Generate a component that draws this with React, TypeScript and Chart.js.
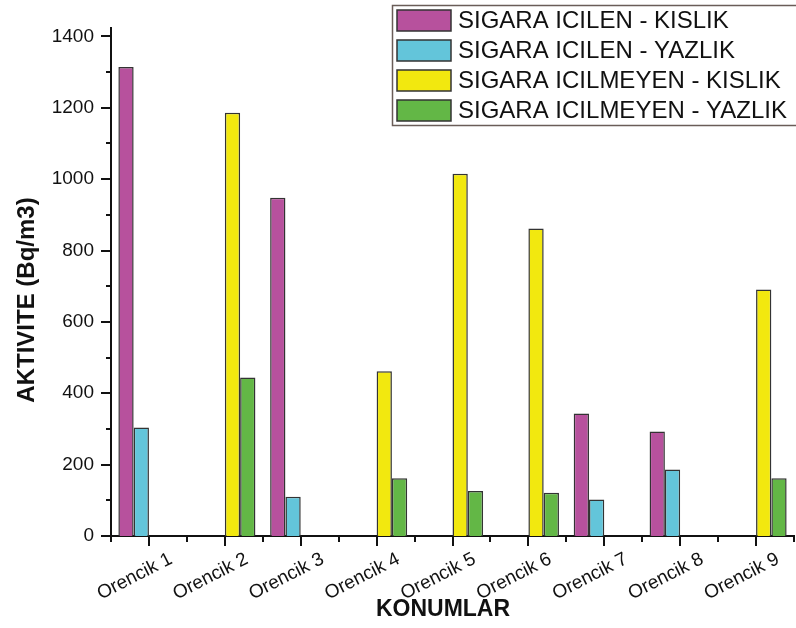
import React, { useEffect, useRef } from 'react';
import { Chart, registerables } from 'chart.js';

Chart.register(...registerables);

const categories = ['Orencik 1', 'Orencik 2', 'Orencik 3', 'Orencik 4', 'Orencik 5', 'Orencik 6', 'Orencik 7', 'Orencik 8', 'Orencik 9'];
const seriesLabels = ['SIGARA ICILEN - KISLIK', 'SIGARA ICILEN - YAZLIK', 'SIGARA ICILMEYEN - KISLIK', 'SIGARA ICILMEYEN - YAZLIK'];
const smokingWinter = [1314, null, 948, null, null, null, 343, 293, null];
const smokingSummer = [304, null, 110, null, null, null, 102, 186, null];
const nonSmokingWinter = [null, 1186, null, 462, 1015, 862, null, null, 691];
const nonSmokingSummer = [null, 444, null, 162, 126, 121, null, null, 162];
const yMajorTicks = [0, 200, 400, 600, 800, 1000, 1200, 1400];
const yMinorTicks = [100, 300, 500, 700, 900, 1100, 1300];
const yTitle = 'AKTIVITE (Bq/m3)';
const xTitle = 'KONUMLAR';

const colors = ['#B7519D', '#63C5DA', '#F2E80F', '#63B746'];
const FONT = "'Liberation Sans', Arial, sans-serif";

const originPlugin = {
  id: 'originDecor',
  afterDraw(chart: any) {
    const { ctx, chartArea, scales } = chart;
    const xs = scales.x;
    const ys = scales.y;
    ctx.save();
    ctx.strokeStyle = '#111';
    ctx.lineWidth = 2;
    ctx.beginPath();
    for (const v of yMajorTicks) {
      const py = Math.round(ys.getPixelForValue(v));
      ctx.moveTo(chartArea.left, py);
      ctx.lineTo(chartArea.left - 10, py);
    }
    for (const v of yMinorTicks) {
      const py = Math.round(ys.getPixelForValue(v));
      ctx.moveTo(chartArea.left, py);
      ctx.lineTo(chartArea.left - 5, py);
    }
    for (let i = 0; i < categories.length; i++) {
      const px = Math.round(xs.getPixelForValue(i));
      ctx.moveTo(px, chartArea.bottom);
      ctx.lineTo(px, chartArea.bottom + 10);
    }
    for (let i = 0; i <= categories.length; i++) {
      const px = Math.round(xs.getPixelForValue(i - 0.5));
      ctx.moveTo(px, chartArea.bottom);
      ctx.lineTo(px, chartArea.bottom + 6);
    }
    ctx.stroke();

    // axis titles
    ctx.fillStyle = '#111';
    ctx.textAlign = 'center';
    ctx.textBaseline = 'middle';
    ctx.save();
    ctx.font = `bold 24px ${FONT}`;
    ctx.translate(27, 300);
    ctx.rotate(-Math.PI / 2);
    ctx.fillText(yTitle, 0, 0);
    ctx.restore();
    ctx.font = `bold 23px ${FONT}`;
    ctx.fillText(xTitle, 443, 610);

    // legend
    ctx.fillStyle = '#fff';
    ctx.fillRect(392.5, 5.5, 410, 120);
    ctx.strokeStyle = '#6a5d58';
    ctx.lineWidth = 1.5;
    ctx.strokeRect(392.5, 5.5, 410, 120);
    chart.data.datasets.forEach((ds: any, i: number) => {
      const cy = 20.5 + 30 * i;
      ctx.fillStyle = ds.backgroundColor;
      ctx.fillRect(397, cy - 10.5, 54, 21);
      ctx.strokeStyle = '#333';
      ctx.lineWidth = 1.5;
      ctx.strokeRect(397, cy - 10.5, 54, 21);
      ctx.fillStyle = '#111';
      ctx.font = `24px ${FONT}`;
      ctx.textAlign = 'left';
      ctx.textBaseline = 'middle';
      ctx.fillText(ds.label, 458, cy + 1);
    });
    ctx.restore();
  },
};

export default function App() {
  const ref = useRef<HTMLCanvasElement>(null);
  useEffect(() => {
    const series = [smokingWinter, smokingSummer, nonSmokingWinter, nonSmokingSummer];
    const chart = new Chart(ref.current as HTMLCanvasElement, {
      type: 'bar',
      data: {
        labels: categories,
        datasets: series.map((d, i) => ({
          label: seriesLabels[i],
          data: d,
          backgroundColor: colors[i],
          borderColor: '#333',
          borderWidth: 1.5,
          categoryPercentage: 0.806,
          barPercentage: 1,
        })),
      },
      options: {
        responsive: false,
        animation: false,
        devicePixelRatio: 1,
        layout: { padding: { top: 28, right: 2, left: 0, bottom: 0 } },
        plugins: { legend: { display: false }, tooltip: { enabled: false } },
        scales: {
          x: {
            type: 'category',
            grid: { display: false, drawTicks: false, tickLength: 0 },
            border: { display: true, color: '#111', width: 2 },
            ticks: {
              autoSkip: false,
              minRotation: 27,
              maxRotation: 27,
              labelOffset: 22,
              padding: 12,
              color: '#111',
              font: { family: FONT, size: 19 },
            },
            afterFit: (s: any) => {
              s.height = 92;
            },
          },
          y: {
            type: 'linear',
            min: 0,
            max: 1422.4,
            grid: { display: false, drawTicks: false, tickLength: 0 },
            border: { display: true, color: '#111', width: 2 },
            ticks: {
              padding: 17,
              color: '#111',
              font: { family: FONT, size: 19 },
              callback: (v: any) => String(v),
            },
            afterBuildTicks: (s: any) => {
              s.ticks = yMajorTicks.map((v) => ({ value: v }));
            },
            afterFit: (s: any) => {
              s.width = 111;
            },
          },
        },
      },
      plugins: [originPlugin],
    } as any);
    return () => chart.destroy();
  }, []);
  return (
    <div style={{ position: 'absolute', left: 0, top: 0, width: 796, height: 628, background: '#fff' }}>
      <canvas ref={ref} width={796} height={628} style={{ display: 'block', width: 796, height: 628 }} />
    </div>
  );
}
